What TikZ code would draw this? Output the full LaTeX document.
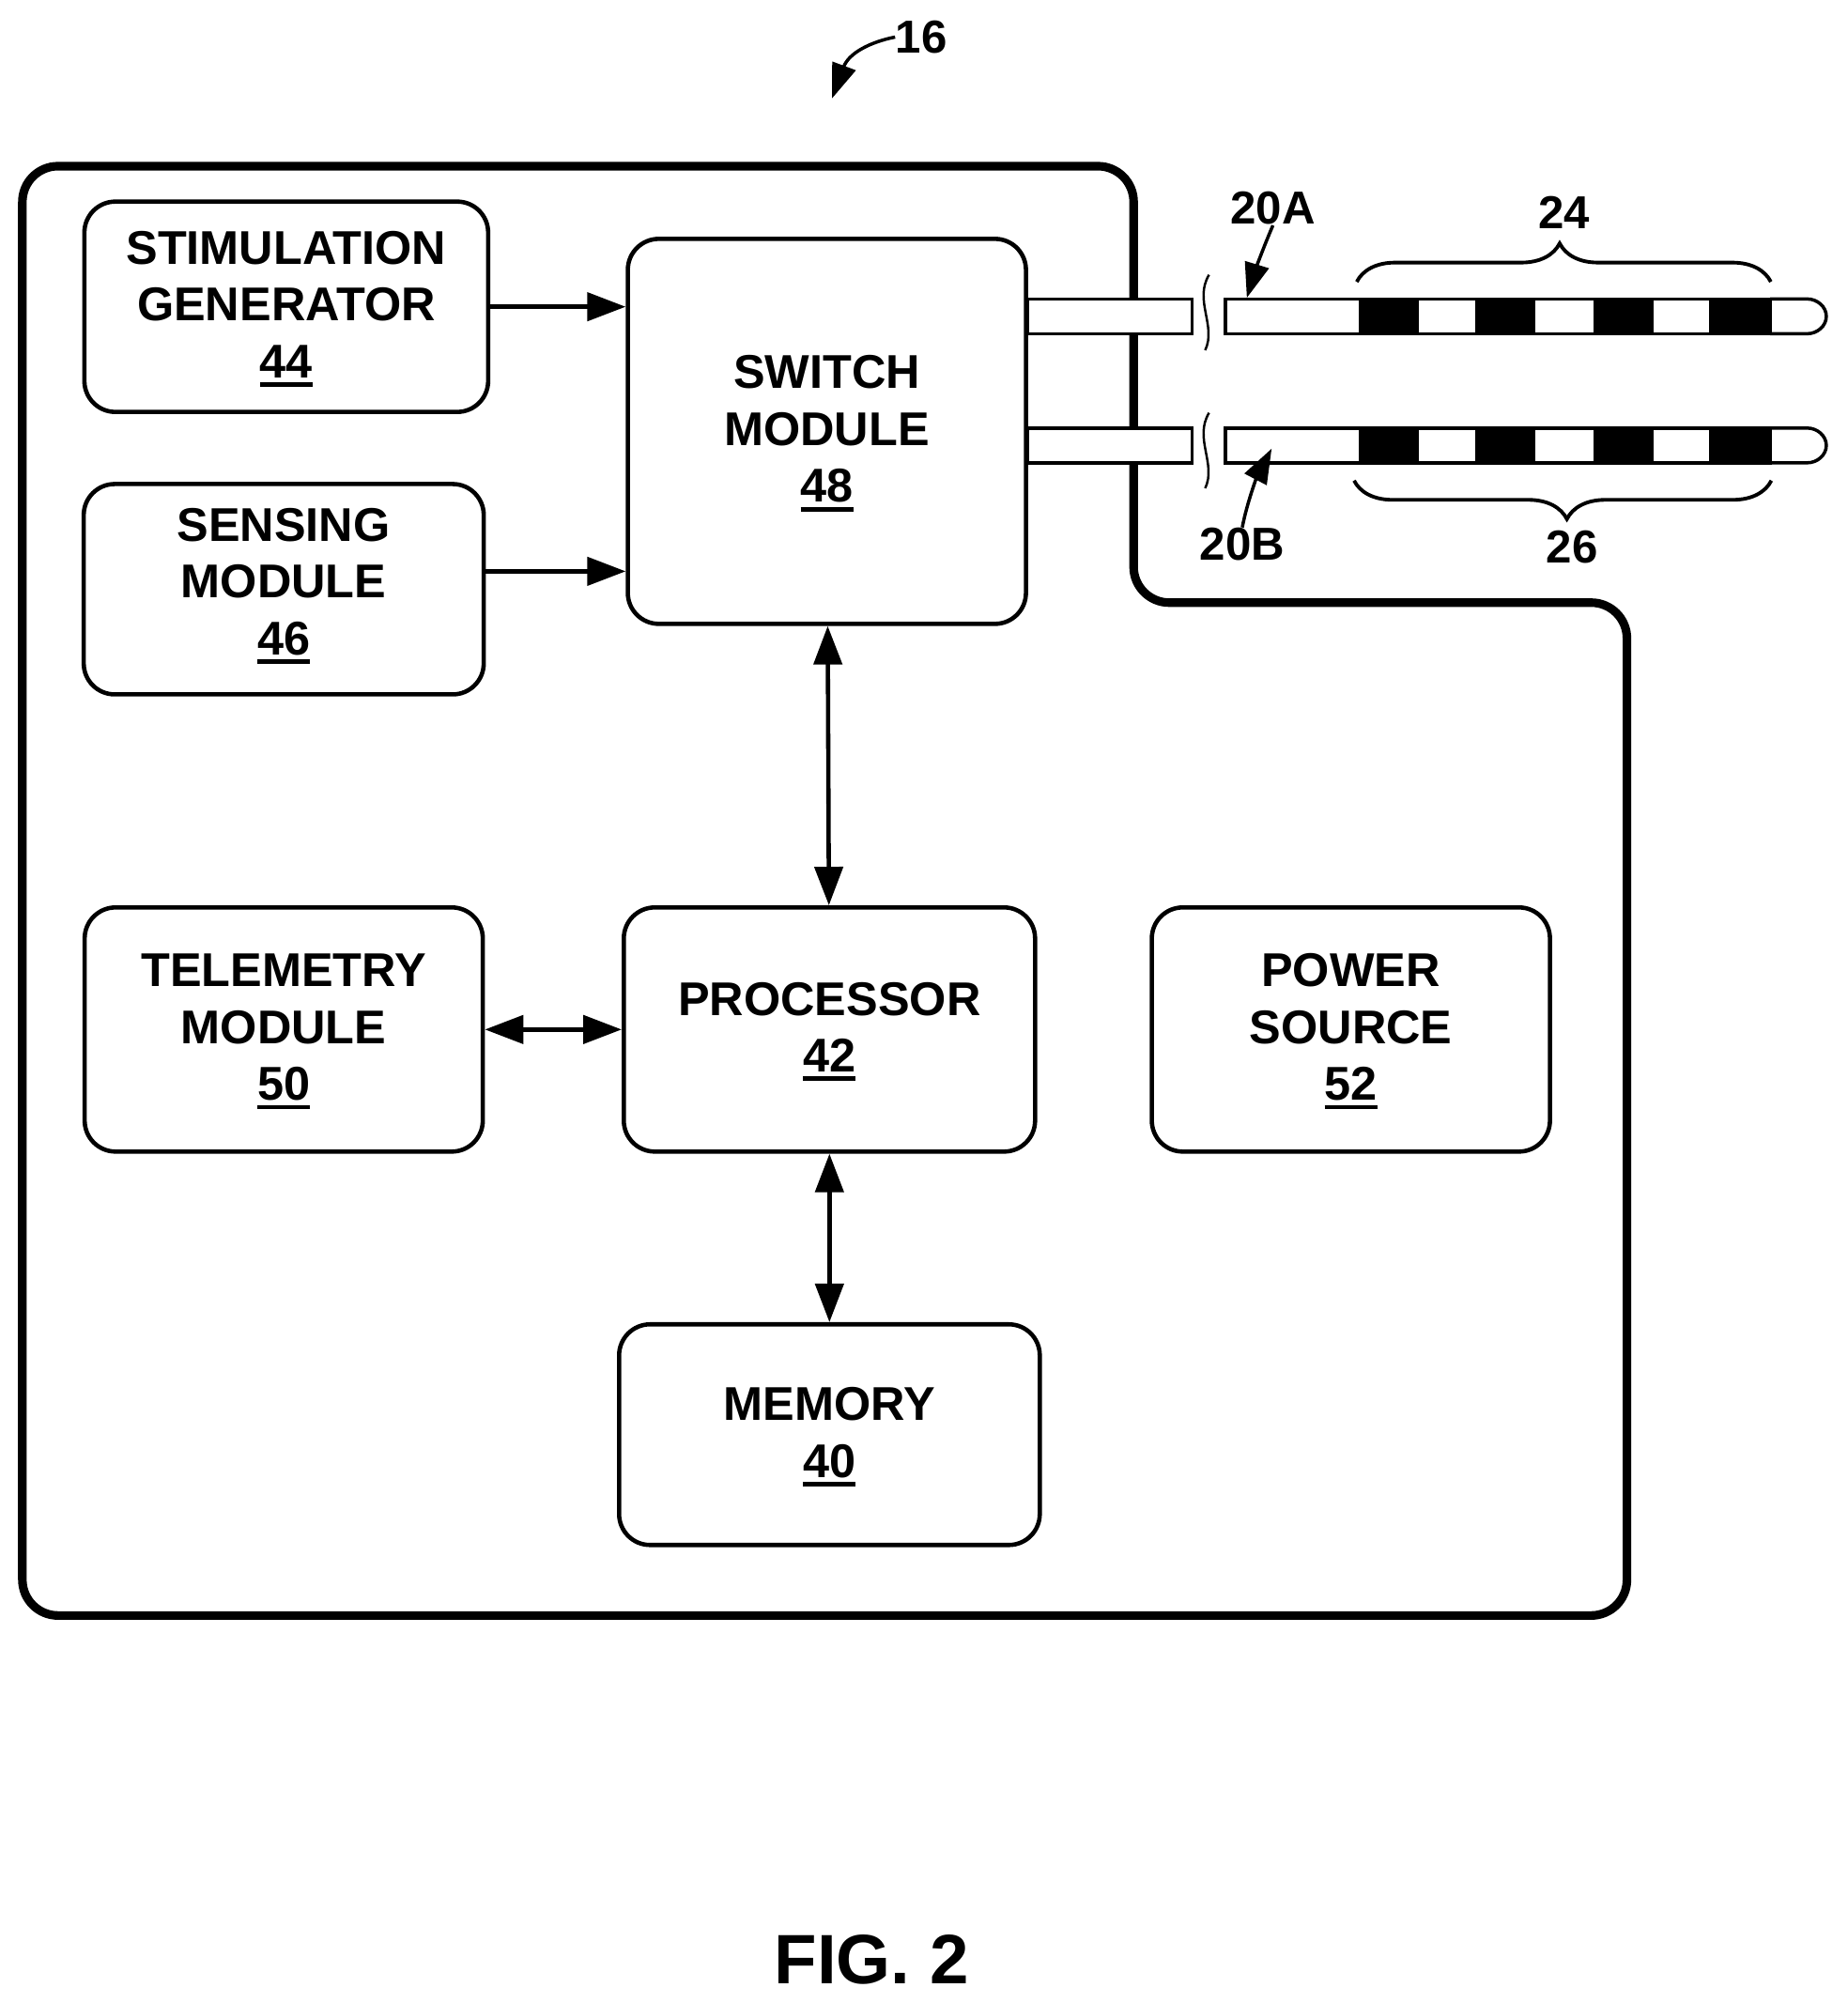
\documentclass[tikz,border=0pt]{standalone}
\usepackage{fontspec}
\setmainfont{Liberation Sans}
\usetikzlibrary{arrows.meta,decorations.pathreplacing}
\newcommand{\refnum}[1]{\vtop{\hbox{#1}\kern1.3pt\hrule height 1.3pt\kern-1.3pt}}
\tikzset{
    box/.style={shape=rectangle,draw=black,line width=1.3pt,rounded corners=0.33cm,align=center,inner sep=0pt,
        font=\fontsize{14.35}{17.2}\selectfont\bfseries},
    tag/.style={inner sep=0pt,font=\fontsize{14}{17}\selectfont\bfseries},
    lead/.style={shape=rectangle,draw=black,fill=white,line width=1pt,inner sep=0pt,outer sep=0pt,minimum height=0.37cm},
    band/.style={shape=rectangle,fill=black,inner sep=0pt,minimum width=0.64cm,minimum height=0.40cm},
    wire/.style={line width=1.3pt,>={Triangle[length=0.41cm,width=0.3cm]}},
    pointer/.style={line width=1pt,>={Triangle[length=0.37cm,width=0.26cm]}},
    curlybrace/.style={line width=1.1pt,decorate,decoration={brace,amplitude=0.41cm}},
}
\begin{document}
\begin{tikzpicture}[x=0.01361cm,y=-0.01361cm]
        \useasboundingbox (0,0) rectangle (1445.3,1567.2);

        % housing
        \draw[line width=2.6pt,rounded corners=0.38cm] (17.5,130) -- (887,130) -- (887,471.5) -- (1273,471.5) -- (1273,1264) -- (17.5,1264) -- cycle;

        % leads
        \node[lead,minimum width=1.75cm] (leadA) at (868.5,247.5) {};
        \node[lead,minimum width=1.75cm] (leadB) at (868.5,348.5) {};
        \node[lead,minimum width=5.80cm] (barA)  at (1172,247.5) {};
        \node[lead,minimum width=5.80cm] (barB)  at (1172,348.5) {};

        \node[band] (A1) at (1086.5,247.5) {};
        \node[band] (A2) at (1177.5,247.5) {};
        \node[band] (A3) at (1270,247.5) {};
        \node[band] (A4) at (1361,247.5) {};
        \node[band] (B1) at (1086.5,348.5) {};
        \node[band] (B2) at (1177.5,348.5) {};
        \node[band] (B3) at (1270,348.5) {};
        \node[band] (B4) at (1361,348.5) {};

        \draw[line width=1pt] (barA.north east) -- (1414,233.9) .. controls (1422,233.9) and (1429,240) .. (1429,247.5) .. controls (1429,255) and (1422,261.1) .. (1414,261.1) -- (barA.south east);
        \draw[line width=1pt] (barB.north east) -- (1414,334.9) .. controls (1422,334.9) and (1429,341) .. (1429,348.5) .. controls (1429,356) and (1422,362.1) .. (1414,362.1) -- (barB.south east);

        % breaks in the leads
        \draw[line width=0.7pt] (946,215) .. controls (934,235) and (952,255) .. (943,274);
        \draw[line width=0.7pt] (946,323) .. controls (934,343) and (952,363) .. (943,382);

        % blocks
        \node[box,minimum width=4.30cm,minimum height=2.24cm] (stim)   at (224,240) {STIMULATION\\GENERATOR\\\refnum{44}};
        \node[box,minimum width=4.26cm,minimum height=2.24cm,text depth=4.8pt] (sense)  at (222,461) {SENSING\\MODULE\\\refnum{46}};
        \node[box,minimum width=4.24cm,minimum height=4.10cm] (switch) at (647,337.5) {SWITCH\\MODULE\\\refnum{48}};
        \node[box,minimum width=4.24cm,minimum height=2.60cm] (telem)  at (222,805.5) {TELEMETRY\\MODULE\\\refnum{50}};
        \node[box,minimum width=4.38cm,minimum height=2.60cm] (proc)   at (649,805.5) {PROCESSOR\\\refnum{42}};
        \node[box,minimum width=4.24cm,minimum height=2.60cm] (power)  at (1057,805.5) {POWER\\SOURCE\\\refnum{52}};
        \node[box,minimum width=4.48cm,minimum height=2.35cm] (memory) at (649,1122.5) {MEMORY\\\refnum{40}};

        \coordinate (senseout) at (sense.east |- 0,447);

        \path [wire,->](stim.east) edge (stim.east -| switch.west);
        \path [wire,->](senseout) edge (senseout -| switch.west);
        \path [wire,<->](switch) edge (proc);
        \path [wire,<->](telem) edge (proc);
        \path [wire,<->](proc) edge (memory);

        % reference numerals
        \node[tag] (n16)  at (721,29)   {16};
        \node[tag] (n20A) at (996,163)  {20A};
        \node[tag] (n20B) at (972,426)  {20B};
        \node[tag] (n24)  at (1224,166) {24};
        \node[tag] (n26)  at (1230,428) {26};
        \node[inner sep=0pt,font=\fontsize{21.2}{24}\selectfont\bfseries] (fig) at (682,1533) {FIG. 2};

        \coordinate (tip16) at (651,77);
        \coordinate (tipA)  at (975.6,233);
        \coordinate (tipB)  at (995,351);

        \draw[pointer,->] (n16.west) .. controls (680,33) and (664,42) .. (tip16);
        \draw[pointer,->] (n20A.south) .. controls (988,195) and (982,212) .. (tipA);
        \draw[pointer,->] (n20B.north) .. controls (976,392) and (984,372) .. (tipB);

        % brace tips sit a little off centre
        \draw[curlybrace,decoration={aspect=0.49}] (1061.6,220.5) -- (1385.6,220.5);
        \draw[curlybrace,decoration={aspect=0.51,mirror}] (1059.5,376) -- (1386,376);
    \end{tikzpicture}
\end{document}
